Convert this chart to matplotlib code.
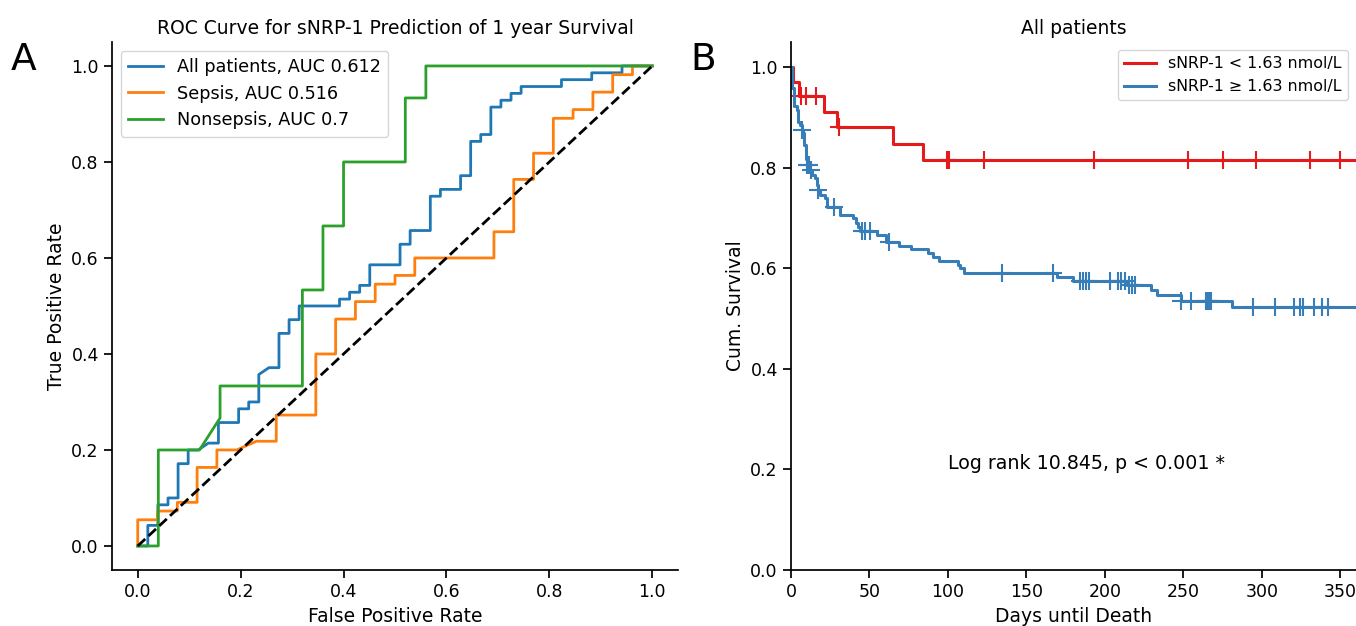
import numpy as np
import matplotlib
matplotlib.use('Agg')
import matplotlib.pyplot as plt

# ROC curves (false positive rate, true positive rate)
# All patients: 51 negatives, 70 positives
allFpr = np.array([0, 1, 1, 2, 2, 3, 3, 4, 4, 5, 5, 6, 7, 8, 8, 10, 10, 11, 11, 12, 12, 13, 14, 14,
                   15, 15, 16, 16, 20, 20, 21, 21, 22, 22, 23, 23, 26, 26, 27, 27, 29, 29, 30, 30,
                   32, 32, 33, 33, 34, 34, 35, 35, 36, 36, 37, 37, 38, 38, 42, 42, 45, 45, 48, 48, 51]) / 51.
allTpr = np.array([0, 0, 3, 3, 6, 6, 7, 7, 12, 12, 14, 14, 15, 15, 18, 18, 20, 20, 21, 21, 25, 26, 26, 31,
                   31, 33, 33, 35, 35, 36, 36, 37, 37, 38, 38, 41, 41, 44, 44, 46, 46, 51, 51, 52,
                   52, 54, 54, 59, 59, 60, 60, 64, 64, 65, 65, 66, 66, 67, 67, 68, 68, 69, 69, 70, 70]) / 70.
# Sepsis: 26 negatives, 55 positives
sepFpr = np.array([0, 0, 1, 1, 2, 2, 3, 3, 4, 4, 5, 6, 7, 7, 9, 9, 10, 10, 11, 11, 12, 12, 13, 13,
                   14, 14, 18, 18, 19, 19, 20, 20, 21, 21, 22, 22, 23, 23, 24, 24, 25, 25, 26]) / 26.
sepTpr = np.array([0, 3, 3, 4, 4, 5, 5, 9, 9, 11, 11, 12, 12, 15, 15, 22, 22, 26, 26, 28, 28, 30, 30, 31,
                   31, 33, 33, 36, 36, 42, 42, 45, 45, 49, 49, 50, 50, 52, 52, 54, 54, 55, 55]) / 55.
# Nonsepsis: 25 negatives, 15 positives
nonFpr = np.array([0, 1, 1, 3, 4, 4, 8, 8, 9, 9, 10, 10, 13, 13, 14, 14, 25]) / 25.
nonTpr = np.array([0, 0, 3, 3, 4, 5, 5, 8, 8, 10, 10, 12, 12, 14, 14, 15, 15]) / 15.
rocLabels = ['All patients, AUC 0.612', 'Sepsis, AUC 0.516', 'Nonsepsis, AUC 0.7']

# Kaplan-Meier curves: day of each drop and survival after it, plus censored days
lowDays = [0, 1.5, 5.1, 21, 29.5, 65, 84]
lowSurv = [1.0, 0.971, 0.943, 0.911, 0.880, 0.848, 0.815]
lowCensor = [6.4, 9.5, 15.9, 30.5, 99.5, 101, 123, 193, 253, 275, 296, 331, 350]

highDays = [0, 0.8, 2.1, 3.6, 4.7, 5.7, 6.8, 7.8, 8.5, 9.3, 10.5, 12, 13.2, 15.3, 16.3, 17, 18.5,
            21.6, 22.7, 31, 39.7, 41.2, 42.4, 43.9, 55, 60.5, 68.9, 76.4, 87.4, 90.6, 94.2,
            106.5, 108, 110.3, 169.5, 179.5, 214, 229.5, 233, 248.6, 281]
highSurv = [1.0, 0.958, 0.923, 0.915, 0.891, 0.885, 0.875, 0.868, 0.845, 0.818, 0.806, 0.795, 0.785,
            0.779, 0.765, 0.755, 0.746, 0.739, 0.722, 0.706, 0.699, 0.689, 0.683, 0.674, 0.667,
            0.653, 0.644, 0.638, 0.630, 0.622, 0.614, 0.606, 0.600, 0.591, 0.583, 0.575, 0.567,
            0.556, 0.546, 0.535, 0.523]
highCensor = [6.8, 10.5, 11.5, 12.5, 17.4, 27.6, 45, 47.1, 50.3, 62.6, 134.7, 167, 184, 186, 187.7,
              190, 203, 208.5, 210.5, 213, 215.5, 217.5, 219.5, 248.6, 254.8, 264.5, 265.5, 266.5,
              267.5, 294.6, 308.5, 320.7, 324.4, 326.3, 333.5, 338.5, 342.2]
kmLabels = ['sNRP-1 < 1.63 nmol/L', 'sNRP-1 \u2265 1.63 nmol/L']
endDay = 360

fig = plt.figure(figsize=(13.56, 6.26), dpi=100)
ax1 = fig.add_axes([0.0826, 0.0895, 0.4174, 0.8435])
ax2 = fig.add_axes([0.5833, 0.0895, 0.4167, 0.8435])

# Panel A: ROC
ax1.plot(allFpr, allTpr, color='#1f77b4', lw=2, label=rocLabels[0])
ax1.plot(sepFpr, sepTpr, color='#ff7f0e', lw=2, label=rocLabels[1])
ax1.plot(nonFpr, nonTpr, color='#2ca02c', lw=2, label=rocLabels[2])
ax1.plot([0, 1], [0, 1], 'k--', lw=2)
ax1.set_title('ROC Curve for sNRP-1 Prediction of 1 year Survival', fontsize=13.5)
ax1.set_xlabel('False Positive Rate', fontsize=13.5)
ax1.set_ylabel('True Positive Rate', fontsize=13.5)
ax1.legend(loc='upper left', fontsize=12.7)

# Panel B: Kaplan-Meier
for days, surv, cens, col, lab in [(lowDays, lowSurv, lowCensor, '#e41a1c', kmLabels[0]),
                                   (highDays, highSurv, highCensor, '#377eb8', kmLabels[1])]:
    xs = days + [endDay]
    ys = surv + [surv[-1]]
    ax2.plot(xs, ys, drawstyle='steps-post', color=col, lw=2.2, label=lab)
    idx = np.searchsorted(days, cens, side='right') - 1
    ax2.plot(cens, np.array(surv)[idx], '+', color=col, ms=13, mew=1.5)
ax2.set_xlim(0, endDay)
ax2.set_ylim(0, 1.05)
ax2.set_xticks(range(0, 351, 50))
ax2.set_title('All patients', fontsize=13.5)
ax2.set_xlabel('Days until Death', fontsize=13.5)
ax2.set_ylabel('Cum. Survival', fontsize=13.5)
ax2.legend(loc='upper right', fontsize=11.4)
ax2.text(100, 0.2, 'Log rank 10.845, p < 0.001 *', fontsize=13.7)

for ax in [ax1, ax2]:
    ax.spines['top'].set_visible(False)
    ax.spines['right'].set_visible(False)
    ax.tick_params(labelsize=12.5, length=6, width=1.25)
    for s in ax.spines.values():
        s.set_linewidth(1.25)

fig.text(0.008, 0.888, 'A', fontsize=27)
fig.text(0.509, 0.888, 'B', fontsize=27)

fig.savefig('out.png', dpi=100)
